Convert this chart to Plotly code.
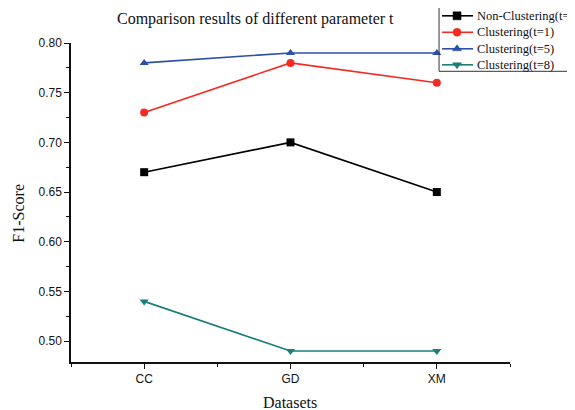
import plotly.graph_objects as go

datasets = ["CC", "GD", "XM"]
non_clustering_t5 = [0.67, 0.70, 0.65]
clustering_t1 = [0.73, 0.78, 0.76]
clustering_t5 = [0.78, 0.79, 0.79]
clustering_t8 = [0.54, 0.49, 0.49]

series = [
    ("Non-Clustering(t=5)", non_clustering_t5, "#000000", "square"),
    ("Clustering(t=1)", clustering_t1, "#F52A22", "circle"),
    ("Clustering(t=5)", clustering_t5, "#2D4FA8", "triangle-up"),
    ("Clustering(t=8)", clustering_t8, "#1C7D7A", "triangle-down"),
]

xpos = list(range(len(datasets)))
fig = go.Figure()
for name, vals, col, sym in series:
    fig.add_trace(go.Scatter(
        x=xpos, y=vals, name=name, mode="lines+markers",
        line=dict(color=col, width=1.6),
        marker=dict(color=col, symbol=sym, size=8),
        showlegend=False,
    ))

serif = "Liberation Serif, Times New Roman, serif"
sans = "Liberation Sans, Arial, sans-serif"

# page body has an 8px offset; figure coords = window coords - 8
L, T, B, R = 62.7, 34.7, 56.3, 73
H = 410 - T - B
W = 575 - L - R

def px(xf):
    return (xf - L) / W

def py(yf):
    return (410 - B - yf) / H

# pixel-sized legend symbols (y axis of pixel shapes points up)
sym_paths = {
    "square": "M-4,-4 H4 V4 H-4 Z",
    "triangle-up": "M-4.6,-2 L4.6,-2 L0,4 Z",
    "triangle-down": "M-4.6,2 L4.6,2 L0,-4 Z",
}

leg_rows = [7.5, 24, 40.5, 56.5]
shapes = [dict(type="rect", xref="paper", yref="paper", layer="above",
               x0=px(431), x1=px(600), y0=py(-1), y1=py(63),
               line=dict(color="#333", width=1), fillcolor="rgba(0,0,0,0)")]
annotations = []
for (name, vals, col, sym), ry in zip(series, leg_rows):
    shapes.append(dict(type="line", xref="paper", yref="paper", layer="above",
                       x0=px(434), x1=px(465), y0=py(ry), y1=py(ry),
                       line=dict(color=col, width=1.6)))
    common = dict(xref="paper", yref="paper", layer="above",
                  xsizemode="pixel", ysizemode="pixel",
                  xanchor=px(449), yanchor=py(ry),
                  fillcolor=col, line=dict(color=col, width=0.5))
    if sym == "circle":
        shapes.append(dict(type="circle", x0=-4, x1=4, y0=-4, y1=4, **common))
    else:
        shapes.append(dict(type="path", path=sym_paths[sym], **common))
    annotations.append(dict(text=name, xref="paper", yref="paper",
                            x=px(467), y=py(ry), xanchor="left", yanchor="middle",
                            showarrow=False, font=dict(family=serif, size=12.5, color="#111")))

annotations += [
    dict(text="Comparison results of different parameter t", xref="paper", yref="paper",
         x=px(247), y=py(11), xanchor="center", yanchor="middle", showarrow=False,
         font=dict(family=serif, size=16, color="#111")),
    dict(text="F1-Score", xref="paper", yref="paper", textangle=-90,
         x=px(10), y=py(205), xanchor="center", yanchor="middle", showarrow=False,
         font=dict(family=serif, size=16, color="#111")),
    dict(text="Datasets", xref="paper", yref="paper",
         x=px(282), y=py(394), xanchor="center", yanchor="middle", showarrow=False,
         font=dict(family=serif, size=16, color="#111")),
]

fig.update_layout(
    width=575, height=410,
    margin=dict(l=L, r=R, t=T, b=B, autoexpand=False),
    paper_bgcolor="white", plot_bgcolor="white",
    showlegend=False,
    xaxis=dict(range=[-0.5, 2.5], tickmode="array", tickvals=xpos, ticktext=datasets,
               showgrid=False, zeroline=False, showline=True, linecolor="#111", linewidth=1.5,
               ticks="outside", ticklen=5, tickwidth=1.2, tickcolor="#111",
               minor=dict(tickvals=[-0.5, 0.5, 1.5, 2.5], ticks="outside", ticklen=3, tickwidth=1.2, tickcolor="#111"),
               tickfont=dict(family=sans, size=12, color="#111")),
    yaxis=dict(range=[0.479, 0.80], tickmode="linear", tick0=0.5, dtick=0.05, tickformat=".2f",
               showgrid=False, zeroline=False, showline=True, linecolor="#111", linewidth=1.5,
               ticks="outside", ticklen=5, tickwidth=1.2, tickcolor="#111",
               minor=dict(tick0=0.475, dtick=0.025, ticks="outside", ticklen=3, tickwidth=1.2, tickcolor="#111"),
               tickfont=dict(family=sans, size=12, color="#111")),
    shapes=shapes,
    annotations=annotations,
)

fig.write_html("out.html")
